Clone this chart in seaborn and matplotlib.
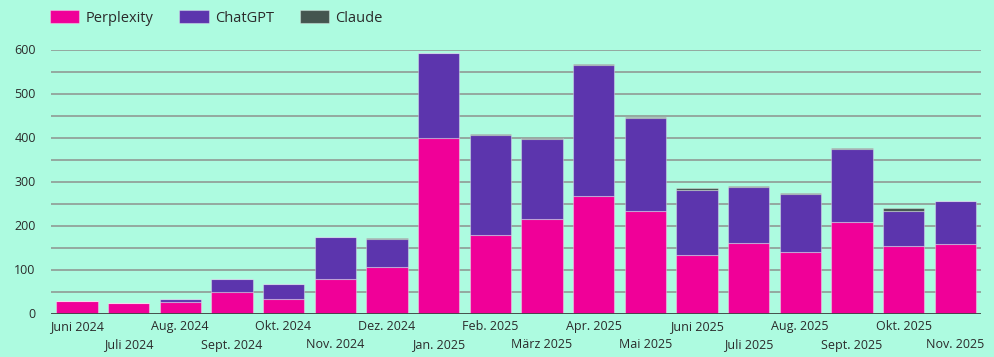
import pandas as pd
import numpy as np
import matplotlib
matplotlib.use("Agg")
import matplotlib.pyplot as plt
import seaborn as sns

# Daten
monate = ["Juni 2024", "Juli 2024", "Aug. 2024", "Sept. 2024", "Okt. 2024", "Nov. 2024",
          "Dez. 2024", "Jan. 2025", "Feb. 2025", "März 2025", "Apr. 2025", "Mai 2025",
          "Juni 2025", "Juli 2025", "Aug. 2025", "Sept. 2025", "Okt. 2025", "Nov. 2025"]
perplexity = [28, 25, 27, 49, 32, 78, 105, 400, 179, 215, 268, 234, 132, 160, 140, 208, 153, 157]
chatgpt = [0, 0, 5, 29, 35, 96, 65, 191, 227, 182, 297, 210, 149, 128, 131, 167, 81, 98]
claude = [0, 0, 1, 1, 1, 1, 2, 1, 1, 1, 1, 2, 4, 1, 3, 1, 5, 1]

farben = {"Perplexity": "#f00098", "ChatGPT": "#5c35ad", "Claude": "#44554f"}
bg = "#adfbe0"

df = pd.DataFrame({"Monat": monate, "Perplexity": perplexity,
                   "ChatGPT": chatgpt, "Claude": claude})
df["bottom_chatgpt"] = df["Perplexity"]
df["bottom_claude"] = df["Perplexity"] + df["ChatGPT"]

sns.set_style("white", {"axes.facecolor": bg, "figure.facecolor": bg})
plt.rcParams["font.family"] = ["Open Sans", "DejaVu Sans"]

fig = plt.figure(figsize=(9.94, 3.57), dpi=100)
ax = fig.add_axes([51 / 994, 1 - 313.5 / 357, 930 / 994, 264 / 357])

edge = dict(edgecolor=(1, 1, 1, 0.35), linewidth=0.8, width=0.8)
sns.barplot(data=df, x="Monat", y="Perplexity", color=farben["Perplexity"],
            saturation=1, ax=ax, label="Perplexity", **edge)
sns.barplot(data=df, x="Monat", y="ChatGPT", bottom=df["bottom_chatgpt"],
            color=farben["ChatGPT"], saturation=1, ax=ax, label="ChatGPT", **edge)
sns.barplot(data=df, x="Monat", y="Claude", bottom=df["bottom_claude"],
            color=farben["Claude"], saturation=1, ax=ax, label="Claude", **edge)

ax.set_ylim(0, 600)
ax.set_xlim(-0.5, len(monate) - 0.5)
ax.set_yticks(range(0, 601, 100))
ax.set_yticks(range(0, 601, 50), minor=True)
ax.grid(axis="y", which="both", color="#8f9a95", linewidth=1.2)
ax.set_axisbelow(True)
ax.axhline(0, color="#3d4a45", linewidth=2, zorder=5)
for s in ax.spines.values():
    s.set_visible(False)

# Monatsnamen abwechselnd in zwei Zeilen
pos = np.arange(len(monate))
ax.set_xticks(pos[::2])
ax.set_xticklabels(monate[::2], fontsize=9, color="#2b2b2b")
ax.set_xticks(pos[1::2], minor=True)
ax.set_xticklabels(monate[1::2], minor=True, fontsize=9, color="#2b2b2b")
ax.tick_params(axis="both", length=0, which="both")
ax.tick_params(axis="x", which="major", pad=4.5)
ax.tick_params(axis="x", which="minor", pad=18)
ax.tick_params(axis="y", labelsize=9, labelcolor="#2b2b2b", pad=11)
ax.set_xlabel("")
ax.set_ylabel("")

ax.legend(loc="upper left", bbox_to_anchor=(40 / 994, 1.0), bbox_transform=fig.transFigure,
          ncol=3, frameon=False, fontsize=10.5, handlelength=2.0, handleheight=1.0,
          handletextpad=0.45, columnspacing=1.75, borderaxespad=0.3, labelcolor="#2b2b2b")

fig.savefig("out.png", dpi=100, facecolor=bg)
